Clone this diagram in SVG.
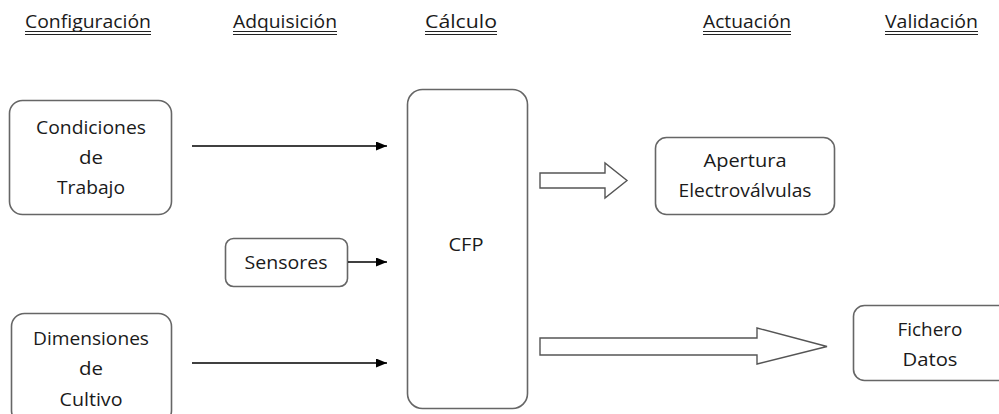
<svg xmlns="http://www.w3.org/2000/svg" width="999" height="414" viewBox="0 0 999 414">
<defs>
<style>
.t{font-family:"Open Sans","Noto Sans","Liberation Sans",sans-serif;font-size:19px;fill:#1a1a1a;text-anchor:middle}
.h{font-family:"Open Sans","Noto Sans","Liberation Sans",sans-serif;font-size:19px;fill:#1a1a1a}
.box{fill:#fff;stroke:#666;stroke-width:1.6}
.ul{stroke:#222;stroke-width:1}
.ln{stroke:#000;stroke-width:1.3;fill:none}
.blk{fill:#fff;stroke:#555;stroke-width:1.4;stroke-linejoin:miter}
</style>
<marker id="ah" viewBox="0 0 11 9" refX="11" refY="4.5" markerWidth="11" markerHeight="9" markerUnits="userSpaceOnUse" orient="auto">
<path d="M0,0 L11,4.5 L0,9 Z" fill="#000"/>
</marker>
</defs>
<rect width="999" height="414" fill="#fff"/>
<g id="headers">
<text class="h" x="25" y="28" textLength="126" lengthAdjust="spacingAndGlyphs">Configuración</text>
<line class="ul" x1="25" y1="31.5" x2="151" y2="31.5"/><line class="ul" x1="25" y1="34.5" x2="151" y2="34.5"/>
<text class="h" x="233" y="28" textLength="104" lengthAdjust="spacingAndGlyphs">Adquisición</text>
<line class="ul" x1="233" y1="31.5" x2="337" y2="31.5"/><line class="ul" x1="233" y1="34.5" x2="337" y2="34.5"/>
<text class="h" x="425" y="28" textLength="72" lengthAdjust="spacingAndGlyphs">Cálculo</text>
<line class="ul" x1="425" y1="31.5" x2="497" y2="31.5"/><line class="ul" x1="425" y1="34.5" x2="497" y2="34.5"/>
<text class="h" x="703" y="28" textLength="88" lengthAdjust="spacingAndGlyphs">Actuación</text>
<line class="ul" x1="703" y1="31.5" x2="791" y2="31.5"/><line class="ul" x1="703" y1="34.5" x2="791" y2="34.5"/>
<text class="h" x="885" y="28" textLength="93" lengthAdjust="spacingAndGlyphs">Validación</text>
<line class="ul" x1="885" y1="31.5" x2="978" y2="31.5"/><line class="ul" x1="885" y1="34.5" x2="978" y2="34.5"/>
</g>
<g id="condiciones">
<rect class="box" x="9.5" y="100.5" width="162" height="114" rx="13"/>
<text class="t" x="91" y="134" textLength="110" lengthAdjust="spacingAndGlyphs">Condiciones</text>
<text class="t" x="91" y="164" textLength="24" lengthAdjust="spacingAndGlyphs">de</text>
<text class="t" x="91" y="194" textLength="68" lengthAdjust="spacingAndGlyphs">Trabajo</text>
</g>
<g id="sensores">
<rect class="box" x="225.5" y="238.5" width="122" height="48" rx="8"/>
<text class="t" x="286" y="269" textLength="83" lengthAdjust="spacingAndGlyphs">Sensores</text>
</g>
<g id="dimensiones">
<rect class="box" x="11.5" y="313.5" width="160" height="110" rx="13"/>
<text class="t" x="91" y="345" textLength="116" lengthAdjust="spacingAndGlyphs">Dimensiones</text>
<text class="t" x="91" y="375" textLength="24" lengthAdjust="spacingAndGlyphs">de</text>
<text class="t" x="91" y="406" textLength="63" lengthAdjust="spacingAndGlyphs">Cultivo</text>
</g>
<g id="cfp">
<rect class="box" x="407.5" y="89.5" width="120" height="319" rx="15"/>
<text class="t" x="466" y="251" textLength="35" lengthAdjust="spacingAndGlyphs">CFP</text>
</g>
<g id="apertura">
<rect class="box" x="655.5" y="137.5" width="179" height="77" rx="11"/>
<text class="t" x="745" y="167" textLength="83" lengthAdjust="spacingAndGlyphs">Apertura</text>
<text class="t" x="745" y="197" textLength="133" lengthAdjust="spacingAndGlyphs">Electroválvulas</text>
</g>
<g id="fichero">
<rect class="box" x="853.5" y="305.5" width="170" height="75" rx="11"/>
<text class="t" x="930" y="336" textLength="65" lengthAdjust="spacingAndGlyphs">Fichero</text>
<text class="t" x="930" y="366" textLength="55" lengthAdjust="spacingAndGlyphs">Datos</text>
</g>
<g id="connectors">
<line class="ln" x1="192" y1="146" x2="387" y2="146" marker-end="url(#ah)"/>
<line class="ln" x1="348" y1="262" x2="387" y2="262" marker-end="url(#ah)"/>
<line class="ln" x1="192" y1="363" x2="387" y2="363" marker-end="url(#ah)"/>
<path class="blk" d="M540,173 L605,173 L605,163 L627,180.5 L605,198 L605,188 L540,188 Z"/>
<path class="blk" d="M540,338 L757,338 L757,328 L827,346.5 L757,364 L757,355 L540,355 Z"/>
</g>
</svg>
